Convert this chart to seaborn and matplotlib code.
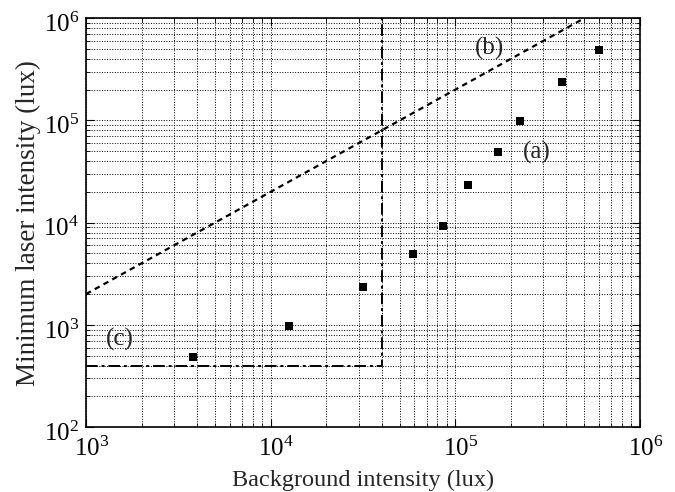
import pandas as pd
import matplotlib
matplotlib.use("Agg")
import matplotlib.pyplot as plt
import matplotlib.transforms as mtransforms
import seaborn as sns

# measured points (a)
background = [3.78e3, 1.26e4, 3.16e4, 5.87e4, 8.53e4, 1.175e5, 1.70e5, 2.24e5, 3.78e5, 5.98e5]
min_laser = [487, 973, 2340, 4920, 9180, 23400, 49200, 98400, 235000, 490000]

# line (b): y = 2x
line_b_x = [1e3, 5e5]
line_b_y = [2e3, 1e6]

# boundary (c)
line_c_x = [1e3, 4e4, 4e4]
line_c_y = [400, 400, 1e6]

df = pd.DataFrame({"background": background, "min_laser": min_laser})

sns.set_style("ticks")
plt.rcParams["font.family"] = ["Liberation Serif", "DejaVu Serif"]
plt.rcParams["mathtext.fontset"] = "stix"

fig = plt.figure(figsize=(6.75, 4.92), dpi=100)
ax = fig.add_axes([0.1274, 0.132, 0.8206, 0.831])

sns.scatterplot(x="background", y="min_laser", data=df, marker="s", s=30,
                color="black", edgecolor="black", linewidth=0, ax=ax, zorder=3)
ax.plot(line_b_x, line_b_y, color="black", linestyle=(0, (2.5, 2)), linewidth=1.6)
ax.plot(line_c_x, line_c_y, color="black", linestyle=(0, (6, 2, 1.5, 2)), linewidth=1.4)

ax.set_xscale("log")
ax.set_yscale("log")
ax.set_xlim(1e3, 1e6)
ax.set_ylim(1e2, 1e6)

ax.grid(True, which="both", color="black", linestyle=":", linewidth=0.7)
ax.tick_params(which="both", direction="in", top=True, right=True, colors="black")
ax.tick_params(which="major", length=6, labelsize=18)
ax.tick_params(axis="x", which="major", pad=7)
ax.tick_params(axis="y", which="major", pad=5)
ax.tick_params(which="minor", length=3)
for sp in ax.spines.values():
    sp.set_color("black")
    sp.set_linewidth(1.2)

# the "10" sits on the tick, exponent hangs off to the side
fig.canvas.draw()
for lbl in ax.get_xticklabels():
    lbl.set_transform(lbl.get_transform() + mtransforms.ScaledTranslation(4 / 72, 0, fig.dpi_scale_trans))
for lbl in ax.get_yticklabels():
    lbl.set_transform(lbl.get_transform() + mtransforms.ScaledTranslation(0, -3 / 72, fig.dpi_scale_trans))

ax.set_xlabel("Background intensity (lux)", fontsize=17.5, labelpad=6)
ax.set_ylabel("Minimum laser intensity (lux)", fontsize=19.5, labelpad=2)

ax.text(2.77e5, 4.9e4, "(a)", fontsize=18, ha="center", va="center")
ax.text(1.54e5, 5.1e5, "(b)", fontsize=18, ha="center", va="center")
ax.text(1.53e3, 7.2e2, "(c)", fontsize=18, ha="center", va="center")

plt.savefig("out.png", dpi=100)
